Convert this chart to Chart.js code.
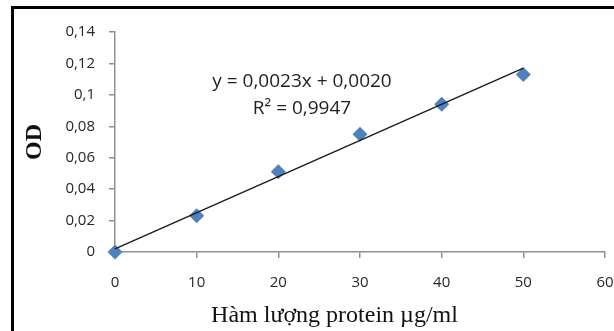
<!DOCTYPE html>
<html lang="vi">
<head>
  <meta charset="UTF-8">
  <title>Đường chuẩn protein</title>
  <style>
    html, body { margin: 0; padding: 0; background: #fff; }
    #wrap { width: 614px; height: 331px; position: relative; }
  </style>
  <script src="https://cdn.jsdelivr.net/npm/chart.js"></script>
</head>
<body>
  <div id="wrap"><canvas id="myChart" width="614" height="331"></canvas></div>

  <script>
    // số liệu
    const protein = [0, 10, 20, 30, 40, 50];
    const od = [0, 0.023, 0.051, 0.075, 0.094, 0.113];
    const trendX = [0, 50];
    const trendY = [0.002, 0.117];
    const yTicks = ['0', '0,02', '0,04', '0,06', '0,08', '0,1', '0,12', '0,14'];
    const xTicks = ['0', '10', '20', '30', '40', '50', '60'];
    const eqLines = ['y = 0,0023x + 0,0020', 'R² = 0,9947'];
    const eqPos = [22.9, 0.1085]; // vị trí phương trình (theo trục)
    const xTitle = 'Hàm lượng protein µg/ml';

    const axisColor = '#8f8f8f';
    const textColor = '#262626';

    // khung viền + tiêu đề trục x + phương trình
    const extras = {
      id: 'extras',
      beforeDraw(chart) {
        const c = chart.ctx;
        c.save();
        c.strokeStyle = '#000';
        c.lineWidth = 3;
        c.beginPath();
        c.moveTo(12.5, 331);
        c.lineTo(12.5, 7.5);
        c.lineTo(614, 7.5);
        c.stroke();
        c.restore();
      },
      afterDraw(chart) {
        const c = chart.ctx;
        const a = chart.chartArea;
        const xs = chart.scales.x, ys = chart.scales.y;
        c.save();
        c.fillStyle = '#111';
        c.font = '24px "Liberation Serif", "Times New Roman", serif';
        c.textAlign = 'center';
        c.textBaseline = 'alphabetic';
        c.fillText(xTitle, a.left + a.width * 0.448, 321.5);

        c.fillStyle = '#1f1f1f';
        c.font = '19px "Open Sans", sans-serif';
        c.textBaseline = 'middle';
        const px = xs.getPixelForValue(eqPos[0]);
        const py = ys.getPixelForValue(eqPos[1]);
        c.fillText(eqLines[0], px, py);
        c.fillText(eqLines[1], px, py + 27);
        c.restore();
      }
    };

    const ctx = document.getElementById('myChart').getContext('2d');
    const myChart = new Chart(ctx, {
      type: 'scatter',
      data: {
        datasets: [
          {
            label: 'trend',
            data: trendX.map((x, i) => ({ x: x, y: trendY[i] })),
            showLine: true,
            borderColor: '#1a1a1a',
            borderWidth: 1.4,
            pointRadius: 0,
            fill: false,
            clip: false
          },
          {
            label: 'OD',
            data: protein.map((x, i) => ({ x: x, y: od[i] })),
            pointStyle: 'rectRot',
            pointRadius: 7.5,
            backgroundColor: '#4f81bd',
            borderColor: '#4f81bd',
            borderWidth: 0,
            clip: false
          }
        ]
      },
      options: {
        responsive: false,
        animation: false,
        layout: { padding: { left: 14, right: 9, top: 32, bottom: 0 } },
        plugins: {
          legend: { display: false },
          tooltip: { enabled: false }
        },
        scales: {
          x: {
            type: 'linear',
            min: 0, max: 60,
            afterFit(s) { s.height = 79; s.paddingRight = 0; s.paddingLeft = 0; },
            border: { color: axisColor, width: 1.5 },
            grid: { drawOnChartArea: false, drawTicks: true, tickLength: 6, color: axisColor, lineWidth: 1.5 },
            ticks: {
              stepSize: 10,
              padding: 16,
              color: textColor,
              font: { family: '"Open Sans", sans-serif', size: 15, weight: '500' },
              callback: (v, i) => xTicks[i]
            }
          },
          y: {
            type: 'linear',
            min: 0, max: 0.14,
            afterFit(s) { s.width = 101; s.paddingTop = 0; s.paddingBottom = 0; },
            border: { color: axisColor, width: 1.5 },
            grid: { drawOnChartArea: false, drawTicks: true, tickLength: 6, color: axisColor, lineWidth: 1.5 },
            title: {
              display: true,
              text: 'OD',
              color: '#111',
              font: { family: '"Liberation Serif", "Times New Roman", serif', size: 24, weight: 'bold' },
              padding: { top: 6, bottom: 0 }
            },
            ticks: {
              stepSize: 0.02,
              padding: 14,
              color: textColor,
              font: { family: '"Open Sans", sans-serif', size: 15, weight: '500' },
              callback: (v, i) => yTicks[i]
            }
          }
        }
      },
      plugins: [extras]
    });
  </script>
</body>
</html>
